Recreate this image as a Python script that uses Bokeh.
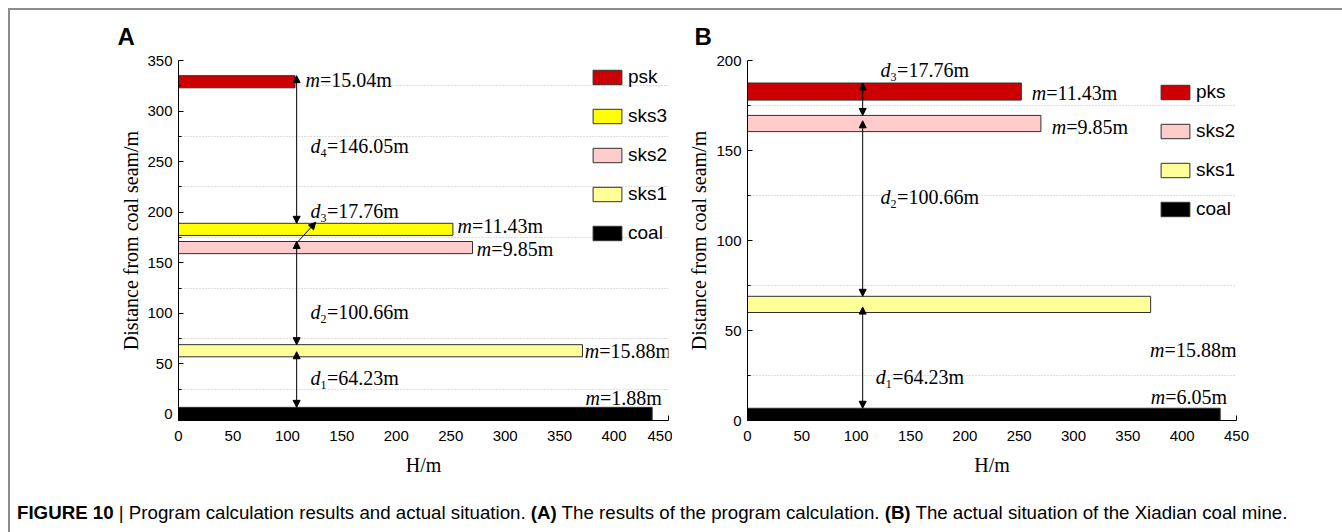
from bokeh.plotting import figure
from bokeh.models import FixedTicker, Legend, LegendItem, Label, Arrow, NormalHead, Div, Range1d
from bokeh.layouts import row, column
from bokeh.embed import file_html
from bokeh.resources import INLINE

# ---------------- data ----------------
x_ticks = [0, 50, 100, 150, 200, 250, 300, 350, 400, 450]

# Panel A: program calculation
a_layers = ["psk", "sks3", "sks2", "sks1", "coal"]
a_length = [107, 252, 270, 371, 435]
a_bottom = [323, 177, 159, 57, -6]
a_top = [335, 189, 171, 69, 7]
a_m_values = ["15.04", "11.43", "9.85", "15.88", "1.88"]
a_d_index = ["4", "3", "2", "1"]
a_d_values = ["146.05", "17.76", "100.66", "64.23"]
a_y_ticks = [0, 50, 100, 150, 200, 250, 300, 350]
a_y_minor = [25, 75, 125, 175, 225, 275, 325]

# Panel B: actual situation
b_layers = ["pks", "sks2", "sks1", "coal"]
b_length = [252, 270, 371, 435]
b_bottom = [178, 160.5, 60, 0]
b_top = [187.5, 169.5, 69, 6.8]
b_m_values = ["11.43", "9.85", "15.88", "6.05"]
b_d_index = ["3", "2", "1"]
b_d_values = ["17.76", "100.66", "64.23"]
b_y_ticks = [0, 50, 100, 150, 200]
b_y_minor = [25, 75, 125, 175]

colors = {"psk": "#CC0000", "pks": "#CC0000", "sks3": "#FFFF00",
          "sks2": "#FFCCCC", "sks1": "#FFFF99", "coal": "#000000"}

# annotation anchor positions (data units)
a_m_pos = [(116.6, 330.3), (256.2, 185.9), (274.0, 163.5), (373.0, 63.2), (373.7, 16.7)]
a_d_pos = [(121.2, 265.0), (121.2, 200.7), (121.2, 101.0), (121.2, 36.5)]
a_arrows = [(108.5, 335, 108.5, 189, True), (109, 170, 126, 190, False),
            (108.5, 171, 108.5, 69, True), (108.5, 62, 108.5, 7, True)]
b_m_pos = [(261.5, 182.2), (280.0, 163.3), (370.5, 39.4), (371.0, 12.8)]
b_d_pos = [(122.5, 195.0), (122.5, 124.0), (118.0, 23.9)]
b_arrows = [(106, 187.5, 106, 169.5, True), (106, 166.5, 106, 69, True),
            (106, 63, 106, 6.8, True)]

SERIF = "Liberation Serif"
SANS = "Liberation Sans"


def head():
    return NormalHead(size=7, fill_color="black", line_color="black", line_width=1)


def make_fig(width, ymin, ymax, mb_left, mb_right, yticks, yminor, label_standoff,
             letter, letter_offset):
    p = figure(width=width, height=480, x_range=Range1d(0, 450), y_range=Range1d(ymin, ymax),
               output_backend="svg", toolbar_location=None,
               min_border_left=mb_left, min_border_right=mb_right,
               min_border_top=50, min_border_bottom=70)
    p.outline_line_color = None
    p.background_fill_color = "white"
    p.border_fill_color = "white"
    p.title.text = letter
    p.title.text_font = SANS
    p.title.text_font_size = "24px"
    p.title.text_font_style = "bold"
    p.title.text_color = "black"
    p.title.align = "left"
    p.title.offset = letter_offset
    p.title.standoff = 21
    p.xgrid.visible = False
    p.ygrid.ticker = FixedTicker(ticks=yminor)
    p.ygrid.grid_line_color = "#bdbdbd"
    p.ygrid.grid_line_dash = "1 2"
    p.ygrid.grid_line_width = 1
    p.xaxis.ticker = FixedTicker(ticks=x_ticks)
    p.yaxis.ticker = FixedTicker(ticks=yticks, minor_ticks=yminor)
    for ax in (p.xaxis, p.yaxis):
        ax.axis_line_color = "black"
        ax.axis_line_width = 1
        ax.major_tick_line_color = "black"
        ax.minor_tick_line_color = "black"
        ax.major_tick_in = 5
        ax.major_tick_out = 0
        ax.minor_tick_in = 3
        ax.minor_tick_out = 0
        ax.major_label_text_font = SANS
        ax.major_label_text_font_size = "15px"
        ax.major_label_text_color = "black"
    p.xaxis.minor_tick_line_color = None
    p.xaxis.major_label_standoff = 10
    p.yaxis.major_label_standoff = 6
    p.yaxis.axis_label = "Distance from coal seam/m"
    p.yaxis.axis_label_standoff = label_standoff
    p.xaxis.axis_label = "H/m"
    p.xaxis.axis_label_standoff = 10
    for ax in (p.xaxis, p.yaxis):
        ax.axis_label_text_font = SERIF
        ax.axis_label_text_font_size = "20px"
        ax.axis_label_text_font_style = "normal"
        ax.axis_label_text_color = "black"
    return p


def draw_bars(p, layers, length, bottom, top):
    items = []
    for name, ln, b, t in zip(layers, length, bottom, top):
        r = p.quad(left=[0], right=[ln], bottom=[b], top=[t], fill_color=colors[name],
                   line_color="#303030", line_width=1)
        items.append(LegendItem(label=name, renderers=[r]))
    return items


def m_label(p, x, y, val):
    p.add_layout(Label(x=x, y=y, text="m", text_font=SERIF, text_font_style="italic",
                       text_font_size="20px", text_baseline="middle", text_color="black"))
    p.add_layout(Label(x=x, y=y, x_offset=14.5, text="=" + val + "m", text_font=SERIF,
                       text_font_size="20px", text_baseline="middle", text_color="black"))


def d_label(p, x, y, idx, val):
    p.add_layout(Label(x=x, y=y, text="d", text_font=SERIF, text_font_style="italic",
                       text_font_size="20px", text_baseline="middle", text_color="black"))
    p.add_layout(Label(x=x, y=y, x_offset=10, y_offset=-7, text=idx, text_font=SERIF,
                       text_font_size="12px", text_baseline="middle", text_color="black"))
    p.add_layout(Label(x=x, y=y, x_offset=16.5, text="=" + val + "m", text_font=SERIF,
                       text_font_size="20px", text_baseline="middle", text_color="black"))


def arrows(p, specs):
    for x0, y0, x1, y1, both in specs:
        p.add_layout(Arrow(x_start=x0, y_start=y0, x_end=x1, y_end=y1,
                           start=head() if both else None, end=head(),
                           line_color="black", line_width=1))


def legend(p, items, loc):
    lg = Legend(items=items, location=loc, glyph_width=36, glyph_height=18,
                label_height=14, spacing=17, padding=0, margin=0,
                border_line_alpha=0, background_fill_alpha=0,
                label_text_font=SANS, label_text_font_size="19px",
                label_text_color="black", label_standoff=3)
    p.add_layout(lg)


# ---------------- panel A ----------------
pa = make_fig(662, -6, 350, 168, 4, a_y_ticks, a_y_minor, 2, "A", -61)
items_a = draw_bars(pa, a_layers, a_length, a_bottom, a_top)
legend(pa, items_a, (411, 176))
arrows(pa, a_arrows)
for (x, y), v in zip(a_m_pos, a_m_values):
    m_label(pa, x, y, v)
for (x, y), i, v in zip(a_d_pos, a_d_index, a_d_values):
    d_label(pa, x, y, i, v)

# ---------------- panel B ----------------
pb = make_fig(662, 0, 200, 75, 98, b_y_ticks, b_y_minor, 3, "B", -53)
items_b = draw_bars(pb, b_layers, b_length, b_bottom, b_top)
legend(pb, items_b, (410, 200))
arrows(pb, b_arrows)
for (x, y), v in zip(b_m_pos, b_m_values):
    m_label(pb, x, y, v)
for (x, y), i, v in zip(b_d_pos, b_d_index, b_d_values):
    d_label(pb, x, y, i, v)

caption = Div(
    text='<div style="font-family: \'Liberation Sans\', Arial, sans-serif; font-size:18.7px; '
         'color:#000; white-space:nowrap; padding-top:5px; padding-left:2px;">'
         '<b>FIGURE 10</b> | Program calculation results and actual situation. '
         '<b>(A)</b> The results of the program calculation. '
         '<b>(B)</b> The actual situation of the Xiadian coal mine.</div>',
    width=1324, height=40)

layout = column(row(pa, pb), caption,
                styles={"margin-left": "8px", "margin-top": "8px",
                        "border-left": "2px solid #8c8c8c", "border-top": "2px solid #8c8c8c"})

open("out.html", "w").write(file_html(layout, INLINE))
